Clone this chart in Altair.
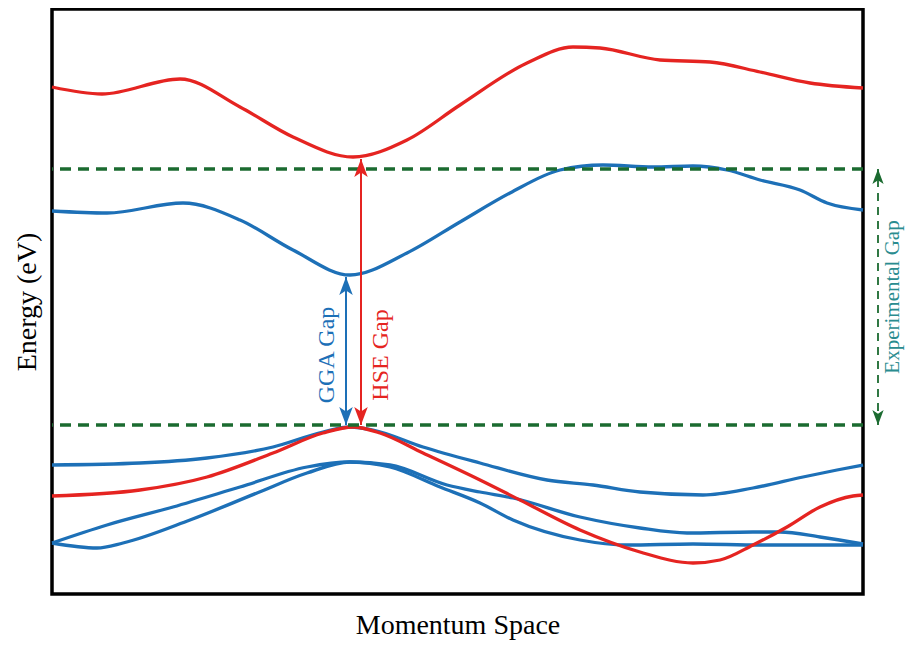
import altair as alt
import pandas as pd

# ---- band data (k: arbitrary momentum units, E: energy in eV, VBM = 0) ----
hse_c_k = [0, 50, 128, 188, 241, 301, 355, 408, 475, 521, 548, 608, 658, 708, 758, 811]
hse_c_E = [3.38, 3.31, 3.46, 3.18, 2.88, 2.68, 2.85, 3.20, 3.62, 3.78, 3.77, 3.65, 3.63, 3.53, 3.42, 3.37]

gga_c_k = [0, 55, 131, 188, 241, 298, 355, 408, 458, 508, 551, 601, 641, 675, 708, 748, 775, 811]
gga_c_E = [2.14, 2.12, 2.22, 2.05, 1.75, 1.50, 1.72, 2.03, 2.32, 2.55, 2.60, 2.58, 2.59, 2.55, 2.45, 2.35, 2.22, 2.15]

hse_v_k = [0, 88, 155, 221, 271, 301, 328, 371, 428, 468, 528, 588, 641, 668, 701, 735, 768, 801, 811]
hse_v_E = [-0.71, -0.65, -0.52, -0.28, -0.08, -0.02, -0.08, -0.28, -0.55, -0.75, -1.05, -1.27, -1.38, -1.35, -1.20, -1.02, -0.82, -0.71, -0.70]

gga_v1_k = [0, 88, 155, 221, 271, 298, 321, 371, 428, 495, 541, 588, 651, 701, 751, 785, 811]
gga_v1_E = [-0.40, -0.38, -0.33, -0.22, -0.07, -0.02, -0.05, -0.22, -0.38, -0.55, -0.60, -0.67, -0.70, -0.63, -0.52, -0.45, -0.40]

gga_v2_k = [0, 55, 121, 188, 255, 298, 338, 395, 428, 461, 528, 588, 635, 701, 728, 768, 811]
gga_v2_E = [-1.18, -1.00, -0.82, -0.62, -0.42, -0.37, -0.40, -0.60, -0.67, -0.73, -0.92, -1.03, -1.08, -1.07, -1.07, -1.12, -1.19]

gga_v3_k = [0, 45, 71, 138, 205, 255, 298, 338, 388, 428, 461, 528, 575, 641, 708, 811]
gga_v3_E = [-1.18, -1.23, -1.18, -0.95, -0.68, -0.48, -0.37, -0.42, -0.62, -0.78, -0.95, -1.15, -1.20, -1.19, -1.20, -1.20]

# reference energies
exp_levels = [0.0, 2.56]          # experimental VBM / CBM
gap_names = ["GGA", "HSE", "Experimental"]
gap_k = [294, 309, 826]
gap_lo = [0.0, 0.0, 0.0]
gap_hi = [1.48, 2.66, 2.56]
label_text = ["GGA Gap", "HSE Gap", "Experimental Gap"]
label_k = [275, 329, 841]
label_E = [0.70, 0.70, 1.28]
label_size = [24, 24, 21]

BLUE = "#1d70b7"
RED = "#e52421"
GREEN = "#1b6b30"
TEAL = "#2a8c8f"
FONT = "Liberation Serif"


def band(name, ks, Es):
    return pd.DataFrame({"band": name, "k": ks, "E": Es})


blue_df = pd.concat([band("gga_c", gga_c_k, gga_c_E), band("gga_v1", gga_v1_k, gga_v1_E),
                     band("gga_v2", gga_v2_k, gga_v2_E), band("gga_v3", gga_v3_k, gga_v3_E)])
red_df = pd.concat([band("hse_c", hse_c_k, hse_c_E), band("hse_v", hse_v_k, hse_v_E)])

YSCALE = alt.Scale(domain=[-1.69, 4.16], nice=False, zero=False)
X = alt.X("k:Q", scale=alt.Scale(domain=[0, 811], nice=False, zero=False),
          axis=alt.Axis(title="Momentum Space", labels=False, ticks=False, domain=False, grid=False,
                        titleFont=FONT, titleFontSize=28, titleFontWeight="normal", titleColor="black",
                        titleY=39, titleBaseline="alphabetic"))
Y = alt.Y("E:Q", scale=YSCALE,
          axis=alt.Axis(title="Energy (eV)", labels=False, ticks=False, domain=False, grid=False,
                        titleFont=FONT, titleFontSize=28, titleFontWeight="normal", titleColor="black",
                        titleX=-17, titleBaseline="alphabetic"))

blue_lines = alt.Chart(blue_df).mark_line(color=BLUE, strokeWidth=3.3, interpolate="monotone").encode(
    x=X, y=Y, detail="band:N")
red_lines = alt.Chart(red_df).mark_line(color=RED, strokeWidth=3.3, interpolate="monotone").encode(
    x=X, y=Y, detail="band:N")

levels = alt.Chart(pd.DataFrame({"E": exp_levels})).mark_rule(
    color=GREEN, strokeWidth=3.5, strokeDash=[11, 7]).encode(y=Y)

arrows = pd.DataFrame({"name": gap_names, "k": gap_k, "E": gap_lo, "E2": gap_hi,
                       "color": [BLUE, RED, GREEN]})
solid_arrows = arrows[arrows["name"] != "Experimental"]
exp_arrow = arrows[arrows["name"] == "Experimental"]

shafts = alt.Chart(solid_arrows).mark_rule(strokeWidth=2).encode(
    x=X, y=Y, y2="E2:Q", color=alt.Color("color:N", scale=None))
exp_shaft = alt.Chart(exp_arrow).mark_rule(strokeWidth=1.8, strokeDash=[8, 6]).encode(
    x=X, y=Y, y2="E2:Q", color=alt.Color("color:N", scale=None))

UP = "M0,-1 L0.75,1 L0,0.5 L-0.75,1 Z"
DOWN = "M0,1 L0.75,-1 L0,-0.5 L-0.75,-1 Z"

heads_up = alt.Chart(solid_arrows).mark_point(shape=UP, size=324, filled=True, opacity=1,
                                              strokeWidth=0, yOffset=9).encode(
    x=X, y=alt.Y("E2:Q", scale=YSCALE), fill=alt.Fill("color:N", scale=None))
heads_dn = alt.Chart(solid_arrows).mark_point(shape=DOWN, size=324, filled=True, opacity=1,
                                              strokeWidth=0, yOffset=-9).encode(
    x=X, y=Y, fill=alt.Fill("color:N", scale=None))
exp_up = alt.Chart(exp_arrow).mark_point(shape=UP, size=225, filled=True, opacity=1,
                                         strokeWidth=0, yOffset=7.5).encode(
    x=X, y=alt.Y("E2:Q", scale=YSCALE), fill=alt.Fill("color:N", scale=None))
exp_dn = alt.Chart(exp_arrow).mark_point(shape=DOWN, size=225, filled=True, opacity=1,
                                         strokeWidth=0, yOffset=-7.5).encode(
    x=X, y=Y, fill=alt.Fill("color:N", scale=None))

labels = alt.Chart(pd.DataFrame({"text": label_text, "k": label_k, "E": label_E,
                                 "color": [BLUE, RED, TEAL], "size": label_size})).mark_text(
    angle=270, align="center", baseline="middle", font=FONT).encode(
    x=X, y=Y, text="text:N", color=alt.Color("color:N", scale=None),
    size=alt.Size("size:Q", scale=None))

chart = alt.layer(blue_lines, red_lines, levels, shafts, exp_shaft, heads_up, heads_dn,
                  exp_up, exp_dn, labels).properties(
    width=811, height=585,
    autosize=alt.AutoSizeParams(type="none"),
    padding={"left": 44, "top": 1, "right": 43, "bottom": 47},
    background="white",
).configure_view(stroke="black", strokeWidth=3.5)

chart.save("out.html", embed_options={"renderer": "svg", "actions": False})
